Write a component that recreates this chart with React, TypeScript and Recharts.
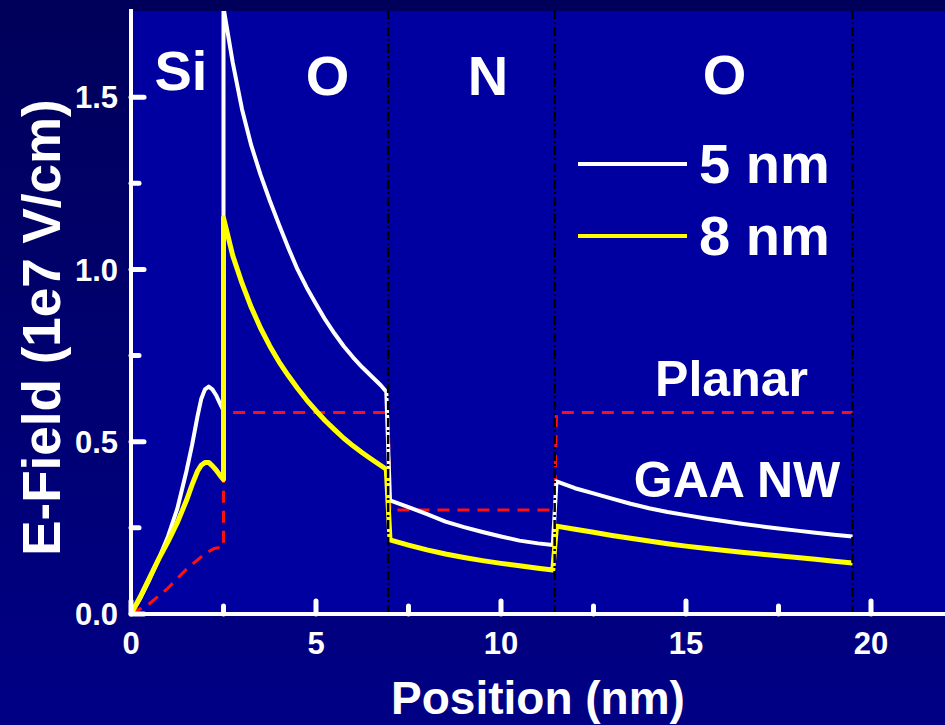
import { CartesianGrid, ComposedChart, Legend, Line, ReferenceDot, ReferenceLine, XAxis, YAxis } from "recharts";

// 5 nm nanowire (white)
const wire5 = [
  { x: 0, y: 0 }, { x: 0.25, y: 0.045 }, { x: 0.5, y: 0.1 }, { x: 0.75, y: 0.16 }, { x: 1.0, y: 0.225 },
  { x: 1.25, y: 0.305 }, { x: 1.5, y: 0.415 }, { x: 1.65, y: 0.49 }, { x: 1.8, y: 0.575 }, { x: 1.9, y: 0.625 },
  { x: 2.0, y: 0.652 }, { x: 2.1, y: 0.66 }, { x: 2.2, y: 0.652 }, { x: 2.3, y: 0.635 }, { x: 2.4, y: 0.612 },
  { x: 2.5, y: 0.59 },
  { x: 2.5, y: 1.76 }, { x: 2.75, y: 1.6 }, { x: 3.0, y: 1.465 }, { x: 3.25, y: 1.36 }, { x: 3.5, y: 1.275 },
  { x: 3.75, y: 1.2 }, { x: 4.0, y: 1.13 }, { x: 4.25, y: 1.063 }, { x: 4.5, y: 1.0 }, { x: 4.75, y: 0.947 },
  { x: 5.0, y: 0.9 }, { x: 5.25, y: 0.854 }, { x: 5.5, y: 0.814 }, { x: 5.75, y: 0.777 }, { x: 6.0, y: 0.745 },
  { x: 6.25, y: 0.716 }, { x: 6.5, y: 0.69 }, { x: 6.75, y: 0.664 }, { x: 6.9, y: 0.645 },
  { x: 7.0, y: 0.33 }, { x: 7.5, y: 0.31 }, { x: 8.0, y: 0.29 }, { x: 8.5, y: 0.268 }, { x: 9.0, y: 0.252 },
  { x: 9.5, y: 0.238 }, { x: 10.0, y: 0.225 }, { x: 10.5, y: 0.213 }, { x: 11.0, y: 0.205 }, { x: 11.4, y: 0.2 },
  { x: 11.5, y: 0.385 }, { x: 12, y: 0.365 }, { x: 12.5, y: 0.35 }, { x: 13, y: 0.335 }, { x: 13.5, y: 0.32 },
  { x: 14, y: 0.307 }, { x: 14.5, y: 0.296 }, { x: 15, y: 0.287 }, { x: 15.5, y: 0.278 }, { x: 16, y: 0.27 },
  { x: 16.5, y: 0.262 }, { x: 17, y: 0.255 }, { x: 17.5, y: 0.248 }, { x: 18, y: 0.242 }, { x: 18.5, y: 0.236 },
  { x: 19, y: 0.23 }, { x: 19.5, y: 0.225 },
];

// 8 nm nanowire (yellow)
const wire8 = [
  { x: 0, y: 0 }, { x: 0.25, y: 0.05 }, { x: 0.5, y: 0.105 }, { x: 0.75, y: 0.16 }, { x: 1.0, y: 0.21 },
  { x: 1.25, y: 0.265 }, { x: 1.5, y: 0.33 }, { x: 1.65, y: 0.375 }, { x: 1.8, y: 0.415 }, { x: 1.9, y: 0.432 },
  { x: 2.0, y: 0.44 }, { x: 2.1, y: 0.44 }, { x: 2.2, y: 0.43 }, { x: 2.3, y: 0.418 }, { x: 2.4, y: 0.403 },
  { x: 2.5, y: 0.39 },
  { x: 2.5, y: 1.15 }, { x: 2.75, y: 1.04 }, { x: 3.0, y: 0.96 }, { x: 3.25, y: 0.89 }, { x: 3.5, y: 0.83 },
  { x: 3.75, y: 0.778 }, { x: 4.0, y: 0.732 }, { x: 4.25, y: 0.692 }, { x: 4.5, y: 0.655 }, { x: 4.75, y: 0.621 },
  { x: 5.0, y: 0.59 }, { x: 5.25, y: 0.561 }, { x: 5.5, y: 0.535 }, { x: 5.75, y: 0.51 }, { x: 6.0, y: 0.488 },
  { x: 6.25, y: 0.468 }, { x: 6.5, y: 0.449 }, { x: 6.9, y: 0.42 },
  { x: 7.0, y: 0.215 }, { x: 7.5, y: 0.2 }, { x: 8.0, y: 0.186 }, { x: 8.5, y: 0.174 }, { x: 9.0, y: 0.164 },
  { x: 9.5, y: 0.155 }, { x: 10.0, y: 0.147 }, { x: 10.5, y: 0.14 }, { x: 11.0, y: 0.133 }, { x: 11.4, y: 0.128 },
  { x: 11.5, y: 0.255 }, { x: 12, y: 0.246 }, { x: 12.5, y: 0.237 }, { x: 13, y: 0.228 }, { x: 13.5, y: 0.22 },
  { x: 14, y: 0.212 }, { x: 14.5, y: 0.204 }, { x: 15, y: 0.197 }, { x: 15.5, y: 0.191 }, { x: 16, y: 0.185 },
  { x: 16.5, y: 0.179 }, { x: 17, y: 0.174 }, { x: 17.5, y: 0.169 }, { x: 18, y: 0.164 }, { x: 18.5, y: 0.159 },
  { x: 19, y: 0.153 }, { x: 19.5, y: 0.148 },
];

// planar reference (red dashed)
const planar = [
  { x: 0, y: 0 }, { x: 0.5, y: 0.03 }, { x: 1.0, y: 0.075 }, { x: 1.5, y: 0.13 }, { x: 2.0, y: 0.175 },
  { x: 2.25, y: 0.19 }, { x: 2.5, y: 0.195 },
  { x: 2.5, y: 0.585 }, { x: 6.95, y: 0.585 }, { x: 7.0, y: 0.302 }, { x: 11.45, y: 0.302 },
  { x: 11.5, y: 0.585 }, { x: 19.5, y: 0.585 },
];

const boundaries = [6.95, 11.45, 19.5];
const xTicks = [0, 2.5, 5, 7.5, 10, 12.5, 15, 17.5, 20];
const yTicks = [0, 0.25, 0.5, 0.75, 1.0, 1.25, 1.5];

const regionLabels = [
  { text: "Si", x: 1.35, y: 1.577, size: 56 },
  { text: "O", x: 5.31, y: 1.563, size: 56 },
  { text: "N", x: 9.65, y: 1.563, size: 56 },
  { text: "O", x: 16.04, y: 1.567, size: 56 },
  { text: "Planar", x: 16.23, y: 0.683, size: 50 },
  { text: "GAA NW", x: 16.38, y: 0.392, size: 50 },
];

const FONT = "'Liberation Sans', Arial, sans-serif";
const W = "#ffffff";

const BottomTick = ({ x, y, payload }: any) => {
  const major = payload.value % 5 === 0;
  return (
    <g>
      <line x1={x} x2={x} y1={y} y2={y - (major ? 13 : 8)} stroke={W} strokeWidth={5} strokeLinecap="round" />
      {major && (
        <text x={x} y={y + 40} textAnchor="middle" fill={W} fontSize={31} fontWeight="bold" fontFamily={FONT}>
          {payload.value}
        </text>
      )}
    </g>
  );
};

const TopTick = ({ x, y, payload }: any) => {
  const major = payload.value % 5 === 0;
  return <line x1={x} x2={x} y1={y} y2={y + (major ? 13 : 8)} stroke={W} strokeWidth={5} strokeLinecap="round" />;
};

const LeftTick = ({ x, y, payload }: any) => {
  const major = Math.abs(payload.value * 2 - Math.round(payload.value * 2)) < 1e-6;
  return (
    <g>
      <line x1={x} x2={x + (major ? 13 : 8)} y1={y} y2={y} stroke={W} strokeWidth={5} strokeLinecap="round" />
      {major && (
        <text x={x - 13} y={y} dy="0.36em" textAnchor="end" fill={W} fontSize={31} fontWeight="bold" fontFamily={FONT}>
          {payload.value.toFixed(1)}
        </text>
      )}
    </g>
  );
};

const RightTick = ({ x, y, payload }: any) => {
  const major = Math.abs(payload.value * 2 - Math.round(payload.value * 2)) < 1e-6;
  return <line x1={x} x2={x - (major ? 13 : 8)} y1={y} y2={y} stroke={W} strokeWidth={5} strokeLinecap="round" />;
};

const YTitle = ({ viewBox }: any) => {
  const cx = viewBox.x + 60;
  const cy = viewBox.y + viewBox.height / 2 + 15;
  return (
    <text x={cx} y={cy} transform={`rotate(-90 ${cx} ${cy})`} textAnchor="middle" fill={W} fontSize={53} fontWeight="bold" fontFamily={FONT}>
      E-Field (1e7 V/cm)
    </text>
  );
};

const renderLegend = ({ payload }: any) => (
  <div style={{ fontFamily: FONT }}>
    {(payload || [])
      .filter((p: any) => p.type !== "none")
      .map((p: any) => (
        <div key={p.value} style={{ display: "flex", alignItems: "center", height: 72 }}>
          <div style={{ width: 109, height: 4, background: p.color }} />
          <span style={{ marginLeft: 12, fontSize: 56, fontWeight: "bold", color: W, lineHeight: "72px" }}>{p.value}</span>
        </div>
      ))}
  </div>
);

export default function App() {
  return (
    <div
      style={{
        position: "fixed",
        left: 0,
        top: 0,
        width: 945,
        height: 725,
        background: "linear-gradient(#00005a, #000086)",
        fontFamily: FONT,
      }}
    >
      <ComposedChart width={945} height={725} margin={{ top: 11, right: 0, bottom: 0, left: 0 }}>
        <CartesianGrid fill="#0000a0" horizontal={false} vertical={false} />
        <XAxis
          dataKey="x"
          type="number"
          domain={[0, 22]}
          ticks={xTicks}
          interval={0}
          allowDataOverflow
          height={111}
          tickSize={0}
          tickMargin={0}
          tick={<BottomTick />}
          axisLine={{ stroke: W, strokeWidth: 4, strokeLinecap: "square" }}
          label={{ value: "Position (nm)", position: "insideBottom", offset: 11, fill: W, fontSize: 46, fontWeight: "bold" }}
        />
        <XAxis
          xAxisId="top"
          orientation="top"
          type="number"
          domain={[0, 22]}
          ticks={xTicks}
          interval={0}
          allowDataOverflow
          height={0}
          tickSize={0}
          tickMargin={0}
          tick={<TopTick />}
          axisLine={{ stroke: W, strokeWidth: 4, strokeLinecap: "square" }}
        />
        <YAxis
          type="number"
          domain={[0, 1.75]}
          ticks={yTicks}
          interval={0}
          allowDataOverflow
          width={131}
          tickSize={0}
          tickMargin={0}
          tick={<LeftTick />}
          axisLine={{ stroke: W, strokeWidth: 4, strokeLinecap: "square" }}
          label={<YTitle />}
        />
        <YAxis
          yAxisId="right"
          orientation="right"
          type="number"
          domain={[0, 1.75]}
          ticks={yTicks}
          interval={0}
          allowDataOverflow
          width={0}
          tickSize={0}
          tickMargin={0}
          tick={<RightTick />}
          axisLine={{ stroke: W, strokeWidth: 4, strokeLinecap: "square" }}
        />
        <Legend
          layout="vertical"
          align="center"
          verticalAlign="middle"
          content={renderLegend}
          wrapperStyle={{ position: "absolute", left: 578, top: 128, width: "auto" }}
        />
        <Line
          data={planar}
          dataKey="y"
          name="Planar"
          legendType="none"
          type="linear"
          stroke="#ff1010"
          strokeWidth={3}
          strokeDasharray="12 8"
          dot={false}
          activeDot={false}
          isAnimationActive={false}
        />
        <Line
          data={wire5}
          dataKey="y"
          name="5 nm"
          type="linear"
          stroke="#ffffff"
          strokeWidth={4}
          strokeLinejoin="round"
          dot={false}
          activeDot={false}
          isAnimationActive={false}
        />
        <Line
          data={wire8}
          dataKey="y"
          name="8 nm"
          type="linear"
          stroke="#ffff00"
          strokeWidth={5}
          strokeLinejoin="round"
          dot={false}
          activeDot={false}
          isAnimationActive={false}
        />
        {boundaries.map((b) => (
          <ReferenceLine key={b} x={b} stroke="#000" strokeWidth={2.5} strokeDasharray="9 3 2 3" />
        ))}
        {regionLabels.map((l, i) => (
          <ReferenceDot
            key={i}
            x={l.x}
            y={l.y}
            r={0}
            stroke="none"
            fill="none"
            label={{ value: l.text, position: "center", fill: W, fontSize: l.size, fontWeight: "bold", fontFamily: FONT }}
          />
        ))}
      </ComposedChart>
    </div>
  );
}
